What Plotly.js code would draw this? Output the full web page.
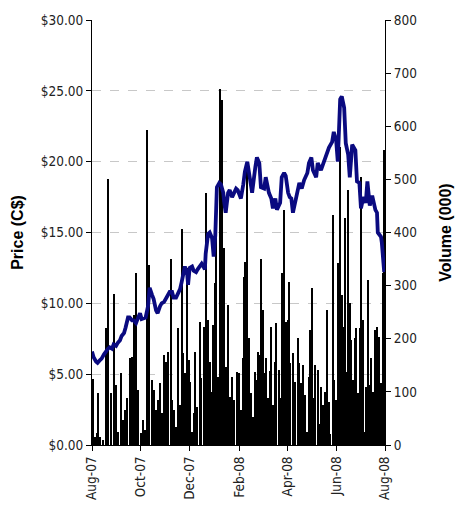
<!DOCTYPE html>
<html><head><meta charset="utf-8">
<script src="https://cdn.plot.ly/plotly-3.0.1.min.js"></script>
<style>html,body{margin:0;padding:0;background:#fff}#chart{width:456px;height:506px}</style>
</head><body><div id="chart"></div>
<script>
// Volume (000s)
const volDates = [
"2007-08-02","2007-08-05","2007-08-07","2007-08-08","2007-08-11","2007-08-15","2007-08-18","2007-08-21","2007-08-25","2007-08-28","2007-08-31",
"2007-09-02","2007-09-06","2007-09-09","2007-09-11","2007-09-14","2007-09-17","2007-09-20","2007-09-22","2007-09-25","2007-09-27",
"2007-10-01","2007-10-04","2007-10-06","2007-10-09","2007-10-11","2007-10-15","2007-10-17","2007-10-20","2007-10-22","2007-10-25","2007-10-27","2007-10-30",
"2007-11-01","2007-11-04","2007-11-08","2007-11-09","2007-11-11","2007-11-14","2007-11-16","2007-11-19","2007-11-21","2007-11-23","2007-11-25","2007-11-28","2007-11-30",
"2007-12-01","2007-12-04","2007-12-06","2007-12-08","2007-12-10","2007-12-14","2007-12-15","2007-12-19","2007-12-21","2007-12-24","2007-12-26","2007-12-28","2007-12-30",
"2008-01-02","2008-01-03","2008-01-05","2008-01-08","2008-01-10","2008-01-13","2008-01-15","2008-01-18","2008-01-20","2008-01-23","2008-01-25","2008-01-29",
"2008-02-01","2008-02-02","2008-02-03","2008-02-06","2008-02-07","2008-02-08","2008-02-11","2008-02-13","2008-02-16","2008-02-18","2008-02-21","2008-02-22","2008-02-24","2008-02-27","2008-02-28",
"2008-03-02","2008-03-04","2008-03-05","2008-03-08","2008-03-10","2008-03-12","2008-03-14","2008-03-17","2008-03-18","2008-03-22","2008-03-23","2008-03-25","2008-03-28","2008-03-30",
"2008-04-02","2008-04-03","2008-04-04","2008-04-08","2008-04-11","2008-04-14","2008-04-16","2008-04-18","2008-04-21","2008-04-23","2008-04-26","2008-04-28","2008-04-29",
"2008-05-02","2008-05-04","2008-05-06","2008-05-09","2008-05-11","2008-05-13","2008-05-16","2008-05-18","2008-05-21","2008-05-23","2008-05-24","2008-05-28","2008-05-29",
"2008-06-01","2008-06-02","2008-06-03","2008-06-06","2008-06-08","2008-06-10","2008-06-12","2008-06-15","2008-06-16","2008-06-18","2008-06-20","2008-06-22","2008-06-25","2008-06-26","2008-06-28",
"2008-07-01","2008-07-02","2008-07-05","2008-07-07","2008-07-08","2008-07-11","2008-07-13","2008-07-15","2008-07-17","2008-07-20","2008-07-22","2008-07-25","2008-07-27","2008-07-30","2008-07-31"
];
const volValues = [
124,15,23,98,15,10,220,500,98,284,113,
25,135,47,66,88,164,166,245,324,103,
22,47,28,593,339,122,103,66,85,117,60,169,
156,175,350,85,66,34,220,75,406,173,135,333,160,
118,25,60,175,72,232,126,222,474,235,156,100,226,
305,408,128,670,649,371,147,264,90,128,85,137,
135,28,66,164,316,344,531,201,98,53,137,122,175,170,350,
254,135,164,88,140,222,75,156,230,141,88,324,442,232,
235,307,154,173,118,201,154,117,150,94,25,128,216,
296,88,150,141,40,109,75,100,254,81,20,433,122,
85,81,342,561,282,222,427,137,480,267,198,122,201,220,98,
220,504,235,25,109,311,113,164,100,216,222,203,117,324,555
];
// Price (C$)
const priceDates = [
"2007-08-01","2007-08-03","2007-08-06","2007-08-08","2007-08-11","2007-08-13","2007-08-16","2007-08-18","2007-08-21","2007-08-23","2007-08-26","2007-08-28","2007-08-31",
"2007-09-02","2007-09-05","2007-09-07","2007-09-10","2007-09-12","2007-09-15","2007-09-17","2007-09-20","2007-09-22","2007-09-25","2007-09-27","2007-09-30",
"2007-10-02","2007-10-05","2007-10-07","2007-10-10","2007-10-12","2007-10-15","2007-10-17","2007-10-20","2007-10-22","2007-10-25","2007-10-27","2007-10-30",
"2007-11-01","2007-11-04","2007-11-06","2007-11-09","2007-11-11","2007-11-14","2007-11-16","2007-11-19","2007-11-21","2007-11-24","2007-11-25","2007-11-28","2007-11-29",
"2007-12-01","2007-12-04","2007-12-06","2007-12-09","2007-12-11","2007-12-14","2007-12-16","2007-12-19","2007-12-20","2007-12-21","2007-12-24","2007-12-26","2007-12-29","2007-12-31",
"2008-01-02","2008-01-04","2008-01-07","2008-01-09","2008-01-12","2008-01-13","2008-01-15","2008-01-18","2008-01-20","2008-01-23","2008-01-25","2008-01-28","2008-01-30",
"2008-02-03","2008-02-06","2008-02-08","2008-02-11","2008-02-14","2008-02-17","2008-02-21","2008-02-23","2008-02-26","2008-02-28",
"2008-03-03","2008-03-05","2008-03-09","2008-03-12","2008-03-14","2008-03-17","2008-03-19","2008-03-23","2008-03-25","2008-03-28","2008-03-30",
"2008-04-02","2008-04-04","2008-04-06","2008-04-08","2008-04-12","2008-04-16","2008-04-19","2008-04-22","2008-04-26","2008-04-28",
"2008-05-01","2008-05-03","2008-05-07","2008-05-09","2008-05-13","2008-05-17","2008-05-21","2008-05-23","2008-05-27","2008-05-29",
"2008-06-01","2008-06-03","2008-06-06","2008-06-08","2008-06-11","2008-06-13","2008-06-16","2008-06-18","2008-06-21","2008-06-25","2008-06-27","2008-06-30",
"2008-07-02","2008-07-05","2008-07-08","2008-07-10","2008-07-13","2008-07-16","2008-07-20","2008-07-22","2008-07-23","2008-07-27","2008-07-28","2008-07-31"
];
const priceValues = [
6.6,6.2,5.9,5.8,6.0,6.1,6.4,6.6,6.8,6.9,6.8,7.1,7.0,
7.2,7.4,7.7,7.9,8.3,9.0,9.0,8.8,8.8,8.6,8.9,9.3,
8.9,9.0,9.0,9.8,11.1,10.6,10.3,9.5,9.3,9.8,10.0,10.1,
10.3,10.5,10.8,10.8,10.4,10.4,10.6,11.0,11.5,12.4,12.6,12.0,11.3,
12.5,12.6,12.3,12.2,12.4,12.6,12.8,12.5,12.4,13.5,14.9,15.0,14.6,13.3,
14.8,18.2,18.5,18.4,17.8,17.2,16.4,17.8,18.0,17.5,17.8,18.1,18.0,
17.4,18.4,19.3,20.0,18.7,17.8,19.6,20.3,19.9,18.2,
18.1,18.9,17.8,17.4,16.7,17.4,16.6,17.1,18.9,19.2,19.0,
17.8,17.5,17.4,16.4,17.6,18.5,18.1,18.7,19.2,19.9,
20.3,19.4,18.9,19.9,19.4,20.1,20.7,21.0,21.4,22.1,
21.5,20.0,24.4,24.6,23.8,21.3,20.5,18.9,21.2,20.8,18.6,18.5,
16.7,17.5,17.1,18.6,16.9,17.6,16.6,16.4,15.0,14.7,14.3,12.2
];
const xTickVals = ["2007-08-01","2007-10-01","2007-12-01","2008-02-01","2008-04-01","2008-06-01","2008-08-01"];
const xTickText = ["Aug-07","Oct-07","Dec-07","Feb-08","Apr-08","Jun-08","Aug-08"];

const narrow = '"DejaVu Sans Condensed", "Liberation Sans Narrow", sans-serif';
const bold = '"Liberation Sans", Arial, sans-serif';
const DAY = 86400000;

const traces = [
  {type:'bar', x: volDates, y: volValues, xaxis:'x', yaxis:'y',
   marker:{color:'#000', line:{width:0}}, width: 2.4*DAY, hoverinfo:'x+y'},
  {type:'scatter', mode:'lines', x: priceDates, y: priceValues, xaxis:'x', yaxis:'y2',
   line:{color:'#0a0a80', width:3.8, shape:'linear'}}
];

const tf = {family:narrow, size:13.5, color:'#222'};
const layout = {
  width:456, height:506,
  margin:{l:92, r:71, t:20, b:61},
  paper_bgcolor:'#fff', plot_bgcolor:'#fff',
  showlegend:false, bargap:0,
  xaxis:{type:'date', range:['2007-08-01','2008-08-01'], tickvals:xTickVals, ticktext:xTickText,
    tickangle:-90, ticks:'outside', ticklen:5, tickcolor:'#000', showline:true, linecolor:'#000', linewidth:1,
    showgrid:false, zeroline:false, tickfont:tf},
  yaxis:{range:[0,800], dtick:100, side:'right', showgrid:false, zeroline:false,
    showline:true, linecolor:'#000', linewidth:1, ticks:'outside', ticklen:5, tickcolor:'#000',
    tickfont:tf,
    title:{text:'Volume (000)', font:{family:bold, size:16, color:'#000', weight:'bold'}, standoff:23}},
  yaxis2:{range:[0,30], dtick:5, overlaying:'y', side:'left', tickprefix:'$', tickformat:'.2f',
    showgrid:true, gridcolor:'#c8c8c8', griddash:'dash', gridwidth:1, zeroline:false,
    showline:true, linecolor:'#000', linewidth:1, ticks:'outside', ticklen:5, tickcolor:'#000',
    tickfont:tf,
    title:{text:'Price (C$)', font:{family:bold, size:16, color:'#000', weight:'bold'}, standoff:13}}
};
Plotly.newPlot('chart', traces, layout, {displayModeBar:false, staticPlot:true});
</script></body></html>
